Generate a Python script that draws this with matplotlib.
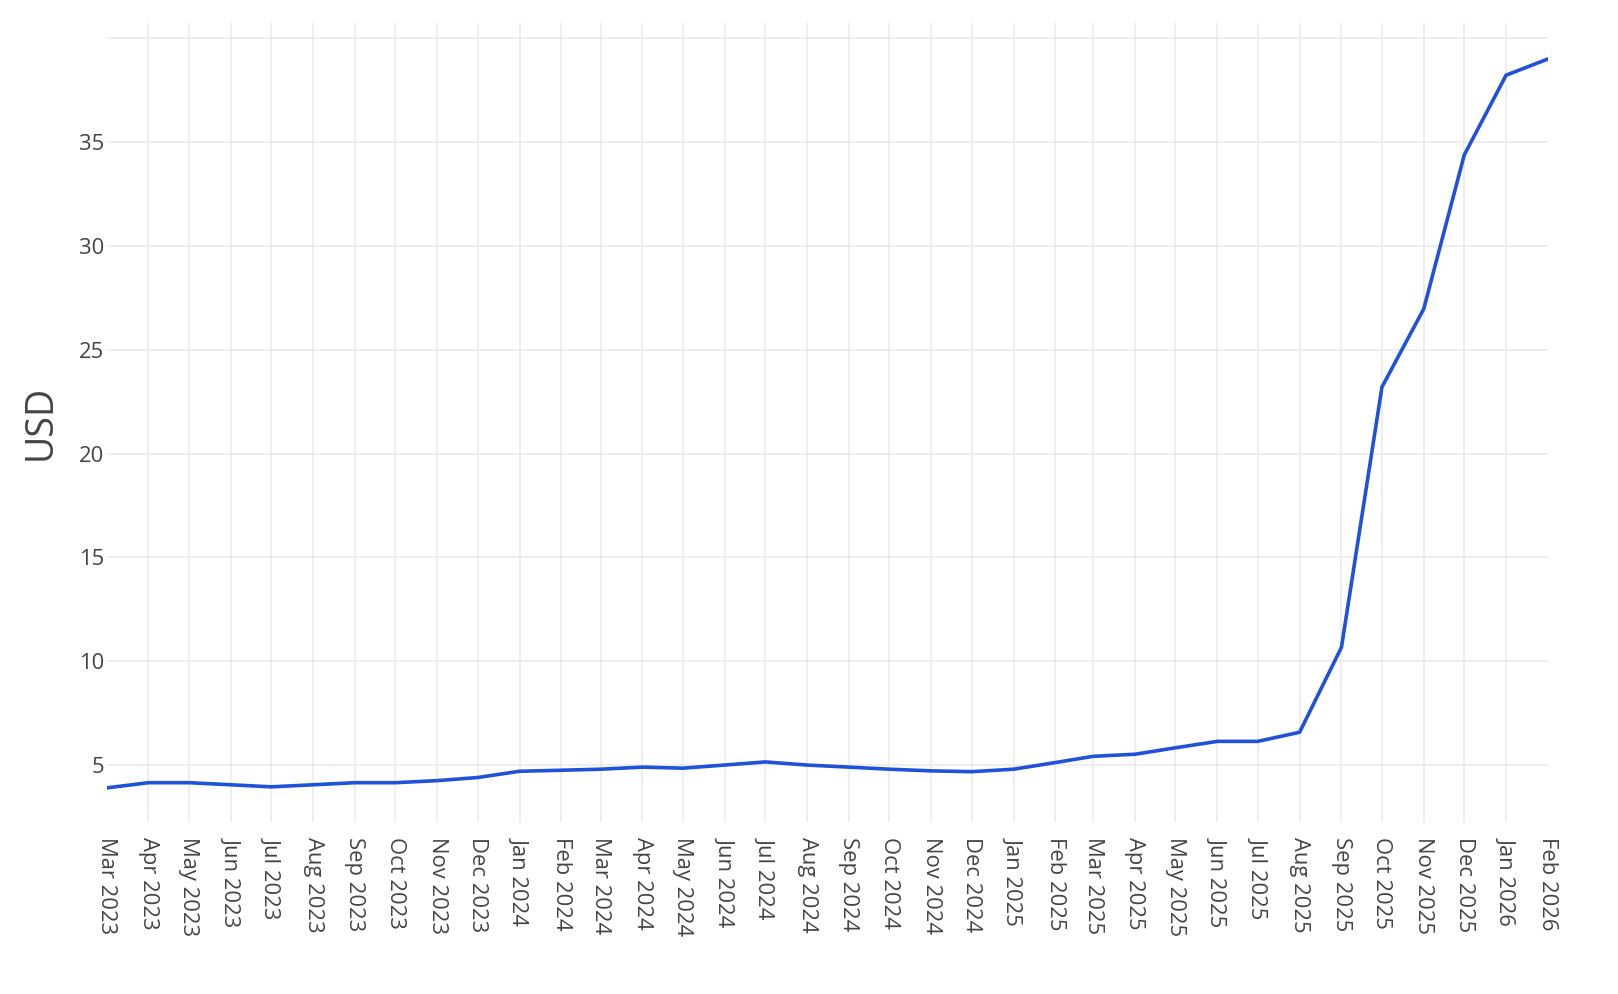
import pandas as pd
import matplotlib.pyplot as plt
import matplotlib.dates as mdates

plt.rcParams['font.family'] = ['Open Sans', 'DejaVu Sans']

months = pd.date_range("2023-03-01", "2026-02-01", freq="MS")
price = [3.9, 4.15, 4.15, 4.05, 3.95, 4.05, 4.15, 4.15, 4.25, 4.4,
         4.7, 4.75, 4.8, 4.9, 4.85, 5.0, 5.15, 5.0, 4.9, 4.8,
         4.72, 4.68, 4.8, 5.12, 5.42, 5.52, 5.83, 6.14, 6.14, 6.58,
         10.67, 23.2, 26.97, 34.38, 38.22, 39.0]
yticks = [5, 10, 15, 20, 25, 30, 35, 40]
ylabels = ["5", "10", "15", "20", "25", "30", "35", ""]

fig = plt.figure(figsize=(16.18, 9.94), dpi=100)
ax = fig.add_axes([0.0659, 0.1733, 0.8908, 0.8033])

ax.plot(months, price, color="#1f52d9", linewidth=2.6, solid_joinstyle="miter")

ax.set_xlim(months[0], months[-1])
ax.set_ylim(2.27, 40.72)
ax.set_xticks(months)
ax.xaxis.set_major_formatter(mdates.DateFormatter("%b %Y"))
ax.set_yticks(yticks)
ax.set_yticklabels(ylabels)

for s in ax.spines.values():
    s.set_visible(False)
ax.tick_params(axis="both", length=0, labelsize=15.8, labelcolor="#444444")
ax.tick_params(axis="x", pad=11, labelrotation=-90)
ax.tick_params(axis="y", pad=2)
for lbl in ax.get_xticklabels():
    lbl.set_horizontalalignment("center")
    lbl.set_verticalalignment("top")

ax.grid(True, color="#ebebeb", linewidth=1.2)
ax.set_axisbelow(True)
gl = ax.xaxis.get_gridlines()
gl[0].set_visible(False)
gl[-1].set_visible(False)

ax.set_ylabel("USD", fontsize=27, color="#444444", labelpad=14)

fig.savefig("out.png", dpi=100, facecolor="white")
